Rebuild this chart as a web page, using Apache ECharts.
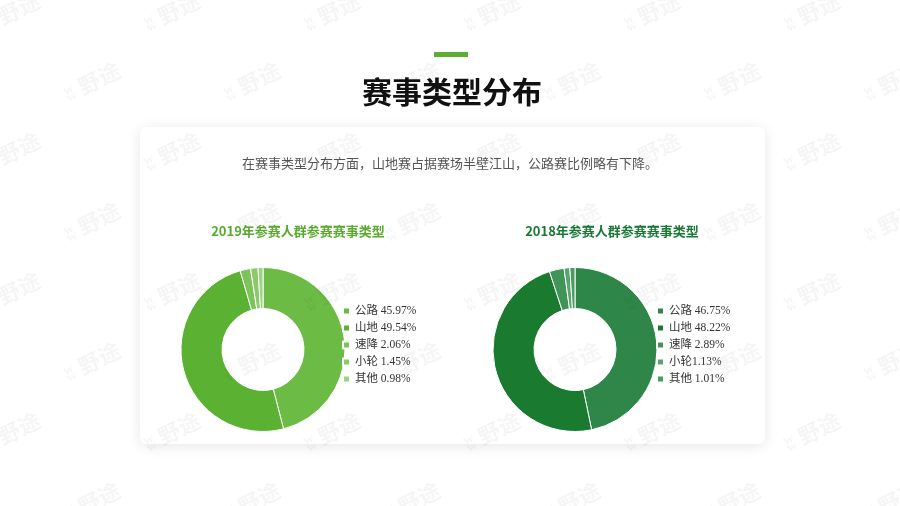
<!DOCTYPE html>
<html><head><meta charset="utf-8">
<script src="https://cdn.jsdelivr.net/npm/echarts@6/dist/echarts.min.js"></script>
<style>html,body{margin:0;padding:0;background:#fff}#c{width:900px;height:506px}</style>
</head><body><div id="c"></div>
<script>
const categories = ['公路','山地','速降','小轮','其他'];
const values2019 = [45.97, 49.54, 2.06, 1.45, 0.98];
const values2018 = [46.75, 48.22, 2.89, 1.13, 1.01];
const colors2019 = ['#6cbb45','#5bb131','#7cc35a','#8bc96c','#9ed285'];
const colors2018 = ['#2e8748','#197a30','#3f9457','#5aa46d','#4c9b61'];
const labels2018 = ['公路 46.75%','山地 48.22%','速降 2.89%','小轮1.13%','其他 1.01%'];
const labels2019 = categories.map((c,i)=>c+' '+values2019[i].toFixed(2)+'%');

const chart = echarts.init(document.getElementById('c'));
const legendFont = {fontFamily:'Liberation Serif, Noto Sans CJK SC', fontSize:11.5, color:'#333', lineHeight:12};

const watermarks = [];
for (let r = 0; r < 8; r++) {
  for (let k = 0; k < 7; k++) {
    const x = 20 + k*160 + (r%2)*80 - 40;
    const y = 15 + r*70;
    watermarks.push({type:'text', x:x, y:y, rotation:Math.PI/7, z:100, silent:true,
      style:{text:'ʬ 野途', fill:'rgba(0,0,0,0.04)', font:'bold 22px "Noto Sans CJK SC"'}});
  }
}

function pie(name, vals, cols, center) {
  return {
    type:'pie', name:name, radius:[41, 82], center:center,
    startAngle:90, clockwise:true, avoidLabelOverlap:false,
    label:{show:false}, labelLine:{show:false},
    itemStyle:{borderColor:'#fff', borderWidth:1},
    data: categories.map((c,i)=>({name:name+c, value:vals[i], itemStyle:{color:cols[i]}}))
  };
}

const s1 = pie('a', values2019, colors2019, [263, 349.5]);
const s2 = pie('b', values2018, colors2018, [575, 349.5]);

chart.setOption({
  backgroundColor:'#fff',
  graphic:[
    {type:'rect', shape:{x:140,y:127,width:625,height:317,r:6}, z:-1,
      style:{fill:'#fff', shadowBlur:14, shadowColor:'rgba(0,0,0,0.10)', shadowOffsetY:2}},
    {type:'rect', shape:{x:434,y:52,width:34,height:5}, style:{fill:'#5aaf32'}},
    {type:'text', x:452, y:92, style:{text:'赛事类型分布', fill:'#111', font:'bold 30px "Noto Sans CJK SC"', textAlign:'center', textVerticalAlign:'middle'}},
    {type:'text', x:450, y:163, style:{text:'在赛事类型分布方面，山地赛占据赛场半壁江山，公路赛比例略有下降。', fill:'#555', font:'13px "Noto Sans CJK SC"', textAlign:'center', textVerticalAlign:'middle'}},
    {type:'text', x:298, y:231, style:{text:'2019年参赛人群参赛赛事类型', fill:'#5aaa30', font:'bold 13px "Noto Sans CJK SC"', textAlign:'center', textVerticalAlign:'middle'}},
    {type:'text', x:612, y:231, style:{text:'2018年参赛人群参赛赛事类型', fill:'#1a7a35', font:'bold 13px "Noto Sans CJK SC"', textAlign:'center', textVerticalAlign:'middle'}}
  ].concat(watermarks),
  legend:[
    {orient:'vertical', left:342, top:305, itemWidth:7, itemHeight:7, itemGap:5, icon:'rect', padding:0,
      data: categories.map(c=>'a'+c), textStyle:legendFont,
      formatter:(n)=>labels2019[categories.indexOf(n.slice(1))]},
    {orient:'vertical', left:656, top:305, itemWidth:7, itemHeight:7, itemGap:5, icon:'rect', padding:0,
      data: categories.map(c=>'b'+c), textStyle:legendFont,
      formatter:(n)=>labels2018[categories.indexOf(n.slice(1))]}
  ],
  series:[s1, s2]
});
</script></body></html>
